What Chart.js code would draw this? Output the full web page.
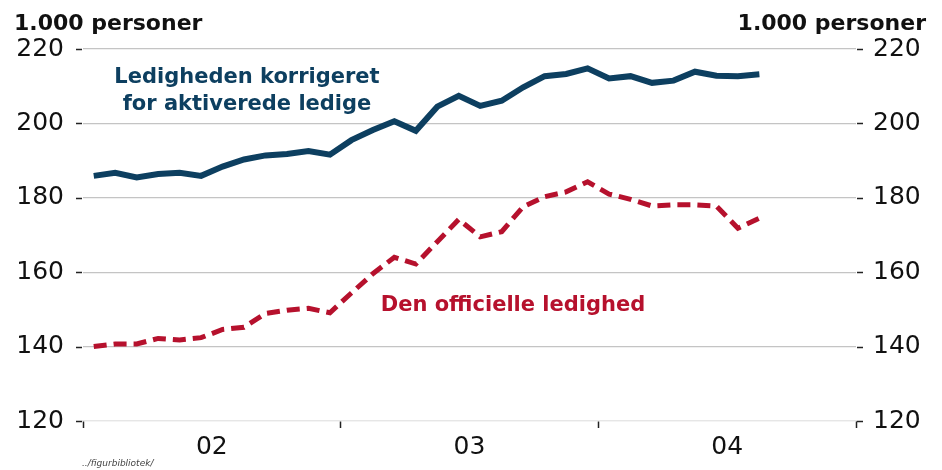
<!DOCTYPE html>
<html>
<head>
<meta charset="utf-8">
<script src="https://cdn.jsdelivr.net/npm/chart.js@4.4.1/dist/chart.umd.min.js"></script>
<style>
  html, body { margin: 0; padding: 0; background: #fff; }
  canvas { display: block; }
</style>
</head>
<body>
<canvas id="graf" width="942" height="470"></canvas>
<script>
/* ============================================================
DATA (måneder jan 02 - aug 04, 1.000 personer)
============================================================ */

const aarLabels = ["02", "03", "04"];
const yTicks = [120, 140, 160, 180, 200, 220];

const korrigeret = [
  185.9, 186.7, 185.5, 186.4, 186.7, 185.9, 188.4, 190.3, 191.4, 191.8,
  192.6, 191.6, 195.5, 198.2, 200.6, 198.0, 204.5, 207.4, 204.7, 206.1,
  209.7, 212.7, 213.3, 214.8, 212.1, 212.7, 210.9, 211.5, 213.9, 212.8,
  212.7, 213.2,
];

const officiel = [
  140.0, 140.7, 140.7, 142.2, 141.8, 142.4, 144.6, 145.2, 148.9, 149.8,
  150.3, 149.1, 154.4, 159.6, 164.0, 162.2, 168.2, 174.2, 169.5, 170.9,
  177.6, 180.3, 181.6, 184.3, 181.0, 179.6, 177.8, 178.1, 178.1, 177.8,
  171.8, 174.5,
];

const BLAA = "#0d3f60";
const ROED = "#b6112d";

// punkt midt i måneden
const tilPunkter = (arr) => arr.map((v, i) => ({ x: i + 0.5, y: v }));

/* ============================================================
TEKSTER + SMÅ STREGER VED Y-AKSERNE
============================================================ */

const teksterPlugin = {
  id: "tekster",
  afterDraw(chart) {
    const ctx = chart.ctx;
    const { left, right } = chart.chartArea;
    const y = chart.scales.y;

    ctx.save();

    /* streger */
    ctx.strokeStyle = "#222";
    ctx.lineWidth = 1.5;
    yTicks.forEach((v) => {
      const py = Math.round(y.getPixelForValue(v)) + 0.5;
      ctx.beginPath();
      ctx.moveTo(left - 7, py);
      ctx.lineTo(left - 1, py);
      ctx.moveTo(right + 1, py);
      ctx.lineTo(right + 7, py);
      ctx.stroke();
    });

    /* enhed */
    ctx.fillStyle = "#111";
    ctx.font = "bold 22px 'DejaVu Sans'";
    ctx.textBaseline = "alphabetic";
    ctx.textAlign = "left";
    ctx.fillText("1.000 personer", 14, 30);
    ctx.textAlign = "right";
    ctx.fillText("1.000 personer", 926, 30);

    /* serienavne */
    ctx.textAlign = "center";
    ctx.fillStyle = BLAA;
    ctx.font = "bold 21px 'DejaVu Sans'";
    ctx.fillText("Ledigheden korrigeret", 247, 83);
    ctx.fillText("for aktiverede ledige", 247, 110);

    ctx.fillStyle = ROED;
    ctx.fillText("Den officielle ledighed", 513, 311);

    ctx.textAlign = "left";
    ctx.fillStyle = "#444";
    ctx.font = "italic 9px 'DejaVu Sans'";
    ctx.fillText("../figurbibliotek/", 82, 466);

    ctx.restore();
  },
};

/* ============================================================
GRAF
============================================================ */

const yAkse = (pos) => ({
  type: "linear",
  position: pos,
  min: 120,
  max: 220,
  afterBuildTicks(s) {
    s.ticks = yTicks.map((v) => ({ value: v }));
  },
  afterFit(s) {
    s.width = pos === "left" ? 83 : 86;
  },
  border: { display: false },
  grid: {
    display: pos === "left",
    drawTicks: false,
    color: (c) => (c.tick && c.tick.value === 120 ? "#e6e6e6" : "#c4c4c4"),
    lineWidth: 1.2,
  },
  ticks: {
    color: "#111",
    padding: pos === "left" ? 19 : 17,
    font: { family: "DejaVu Sans", size: 25 },
  },
});

new Chart(document.getElementById("graf"), {
  type: "line",
  data: {
    datasets: [
      {
        label: "Ledigheden korrigeret for aktiverede ledige",
        data: tilPunkter(korrigeret),
        borderColor: BLAA,
        borderWidth: 6,
        pointRadius: 0,
        tension: 0,
        borderJoinStyle: "miter",
      },
      {
        label: "Den officielle ledighed",
        data: tilPunkter(officiel),
        borderColor: ROED,
        borderWidth: 5,
        borderDash: [13, 7],
        pointRadius: 0,
        tension: 0,
        borderJoinStyle: "miter",
      },
    ],
  },
  options: {
    responsive: false,
    animation: false,
    layout: { padding: { top: 49, left: 0, right: 0, bottom: 0 } },
    plugins: {
      legend: { display: false },
      tooltip: { enabled: false },
    },
    scales: {
      x: {
        type: "linear",
        min: 0,
        max: 36,
        afterBuildTicks(s) {
          s.ticks = [0, 6, 12, 18, 24, 30, 36].map((v) => ({ value: v }));
        },
        afterFit(s) {
          s.height = 49;
        },
        border: { display: true, color: "#e6e6e6", width: 1.2 },
        grid: {
          drawOnChartArea: false,
          tickLength: 7,
          tickWidth: 1.5,
          tickColor: (c) => (c.tick && c.tick.value % 12 === 0 ? "#222" : "rgba(0,0,0,0)"),
        },
        ticks: {
          autoSkip: false,
          maxRotation: 0,
          padding: 4,
          color: "#111",
          font: { family: "DejaVu Sans", size: 25 },
          callback: (v) => (v % 12 === 6 ? aarLabels[(v - 6) / 12] : ""),
        },
      },
      y: yAkse("left"),
      y2: yAkse("right"),
    },
  },
  plugins: [teksterPlugin],
});
</script>
</body>
</html>
